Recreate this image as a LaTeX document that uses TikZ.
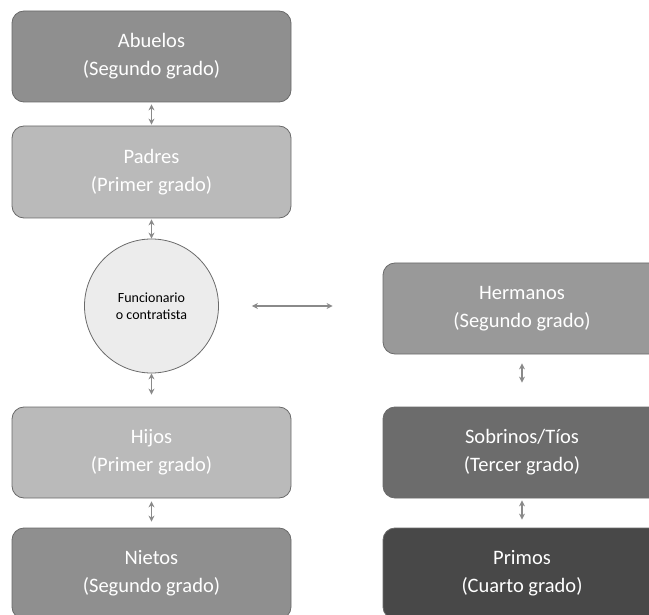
\documentclass[tikz,border=0pt]{standalone}
\usepackage{fontspec}
\setmainfont{Carlito}
\usepackage{tikz}
\usetikzlibrary{arrows.meta}
\definecolor{gmedio}{HTML}{8F8F8F}
\definecolor{gclaro}{HTML}{BABABA}
\definecolor{gcirc}{HTML}{ECECEC}
\definecolor{gherm}{HTML}{999999}
\definecolor{goscuro}{HTML}{6C6C6C}
\definecolor{gprimo}{HTML}{484848}
\definecolor{gborde}{HTML}{6A6A6A}
\definecolor{gflecha}{HTML}{8A8A8A}
\tikzstyle{grado} = [draw=gborde, line width=0.8pt, rectangle, rounded corners=12pt, minimum width=279pt, minimum height=91pt, inner sep=0pt, align=center, text=white, font=\fontsize{20.5}{28}\selectfont]
\tikzstyle{yo} = [draw=gborde, line width=0.8pt, circle, fill=gcirc, minimum size=134pt, inner sep=0pt, align=center, font=\fontsize{14}{17}\selectfont]
\tikzstyle{flecha} = [draw=gflecha, line width=1.2pt, {Stealth[length=6pt,width=6pt]}-{Stealth[length=6pt,width=6pt]}]

\begin{document}
\begin{tikzpicture}[x=1pt,y=-1pt]
	\useasboundingbox (0,0) rectangle (649,615);
	\clip (0,0) rectangle (649,615);
	% linea directa
	\node [grado, fill=gmedio] (abuelos) at (151.5,56.5) {Abuelos\\(Segundo grado)};
	\node [grado, fill=gclaro, minimum height=92pt] (padres) at (151.5,172) {Padres\\(Primer grado)};
	\node [yo] (func) at (151.5,306) {Funcionario\\o contratista};
	\node [grado, fill=gclaro] (hijos) at (151.5,452.5) {Hijos\\(Primer grado)};
	\node [grado, fill=gmedio] (nietos) at (151.5,573.5) {Nietos\\(Segundo grado)};
	% linea colateral
	\node [grado, fill=gherm, minimum width=278pt] (hermanos) at (522,308.5) {Hermanos\\(Segundo grado)};
	\node [grado, fill=goscuro, minimum width=278pt] (sobrinos) at (522,452.5) {Sobrinos/Tíos\\(Tercer grado)};
	\node [grado, fill=gprimo, minimum width=278pt] (primos) at (522,573.5) {Primos\\(Cuarto grado)};

	\draw [flecha, shorten <=2pt, shorten >=1pt] (abuelos) -- (padres);
	\draw [flecha, shorten <=1pt] (padres) -- (func);
	\draw [flecha, shorten >=12pt] (func) -- (hijos);
	\draw [flecha, shorten <=3pt, shorten >=6pt] (hijos) -- (nietos);
	\draw [flecha, shorten <=33pt, shorten >=50pt] (func.east) -- (func.east -| hermanos.west);
	\draw [flecha, shorten <=9pt, shorten >=24pt] (hermanos) -- (sobrinos);
	\draw [flecha, shorten <=2pt, shorten >=8pt] (sobrinos) -- (primos);
\end{tikzpicture}
\end{document}
